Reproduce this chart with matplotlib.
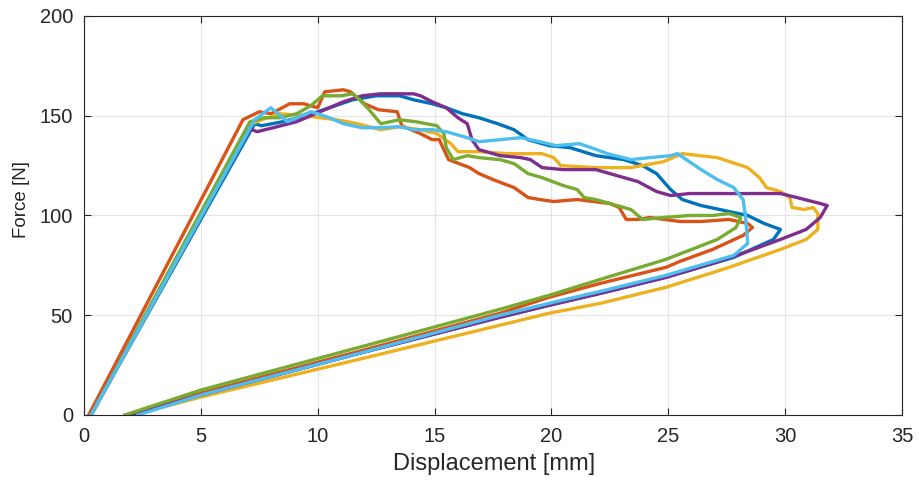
import numpy as np
import matplotlib
matplotlib.use('Agg')
import matplotlib.pyplot as plt

# force-displacement curves
blue_x = [0.3, 7.3, 7.6, 8.5, 9.5, 10.5, 11.5, 12.5, 13.5, 14.1, 14.9, 15.5, 16.2, 16.9, 17.7, 18.4, 19.0, 19.9, 20.8, 21.9, 23.1, 23.9, 24.5, 25.1, 25.6, 26.4, 27.6, 28.4, 29.1, 29.8, 29.5, 27.8, 24.9, 22.1, 19.9, 17.8, 11.8, 5.0, 2.0]
blue_y = [0, 146, 145, 147, 150, 154, 158, 160, 160, 158, 156, 154, 151, 149, 146, 143, 138, 135, 134, 130, 128, 125, 121, 113, 108, 105, 102, 100, 96, 93, 88, 79, 69, 61, 55, 49, 31, 10, 0]

orange_x = [0.2, 6.8, 7.5, 8.0, 8.8, 9.4, 10.0, 10.3, 11.1, 11.4, 12.0, 12.6, 13.4, 13.6, 14.4, 14.9, 15.2, 15.6, 16.5, 16.9, 17.5, 18.4, 19.0, 19.5, 20.1, 21.1, 22.5, 22.9, 23.2, 23.7, 24.2, 25.5, 26.4, 27.6, 28.4, 28.6, 28.2, 26.9, 25.5, 24.9, 22.1, 19.9, 17.8, 11.8, 5.0, 1.8]
orange_y = [0, 148, 152, 151, 156, 156, 154, 162, 163, 162, 156, 153, 152, 145, 141, 138, 138, 128, 124, 121, 118, 114, 109, 108, 107, 108, 106, 104, 98, 98, 99, 97, 97, 98, 96, 94, 90, 83, 77, 74, 66, 59, 51, 32, 11, 0]

yellow_x = [0.3, 7.2, 7.6, 8.4, 9.5, 10.1, 10.8, 11.7, 12.7, 13.5, 14.4, 15.1, 15.7, 16.0, 16.9, 18.1, 19.6, 20.1, 20.4, 21.9, 23.4, 24.8, 25.6, 27.1, 28.4, 28.9, 29.2, 29.8, 30.2, 30.3, 30.8, 31.2, 31.4, 31.4, 30.9, 29.8, 27.6, 24.9, 22.1, 19.9, 17.8, 11.8, 5.0, 2.1]
yellow_y = [0, 146, 148, 151, 150, 149, 148, 146, 143, 144.5, 143, 141, 136, 132, 132, 131, 131, 129, 125, 124, 124, 127, 131, 129, 124, 119, 114, 112, 109, 104, 103, 104, 101, 93, 88, 83, 74, 64, 56, 51, 45, 28, 9, 0]

purple_x = [0.3, 7.0, 7.4, 8.1, 9.1, 10.1, 11.1, 11.9, 12.7, 14.1, 14.4, 14.9, 15.5, 16.0, 16.4, 16.6, 16.9, 17.8, 18.7, 19.1, 19.6, 20.5, 21.9, 22.8, 23.7, 24.5, 25.1, 25.9, 27.5, 29.8, 30.5, 31.5, 31.8, 31.5, 30.9, 29.8, 28.4, 26.9, 24.9, 22.1, 19.9, 17.8, 11.8, 5.0, 2.0]
purple_y = [0, 144, 142, 144, 147, 152, 157, 160, 161, 161, 160, 157, 154, 149, 146, 138, 133, 130, 129, 128, 124, 123, 123, 120, 117, 112, 110, 111, 111, 111, 109, 106, 105, 99, 93, 88, 82, 76, 69, 61, 55, 49, 31, 10, 0]

green_x = [0.3, 7.1, 7.7, 8.4, 9.1, 9.7, 10.2, 11.0, 11.5, 11.8, 12.2, 12.7, 13.5, 14.2, 15.1, 15.4, 15.5, 15.8, 16.4, 16.9, 17.8, 18.4, 19.0, 19.6, 20.5, 21.1, 21.4, 21.9, 22.8, 23.4, 23.9, 24.8, 25.9, 26.9, 27.6, 28.1, 27.9, 27.1, 24.9, 22.1, 19.9, 17.8, 11.8, 5.0, 1.75]
green_y = [0, 147, 149, 149, 151, 155, 160, 160, 161, 158, 153, 146, 148, 147, 145, 141, 134, 128, 130, 129, 128, 126, 121, 119, 115, 113, 109, 108, 105, 103, 98, 99, 100, 100, 101, 99, 94, 88, 78, 68, 60, 53, 34, 12.5, 0]

lblue_x = [0.3, 7.3, 8.0, 8.7, 9.1, 9.7, 10.0, 10.5, 11.1, 11.9, 12.7, 13.5, 14.1, 14.9, 15.5, 16.4, 16.9, 17.8, 18.7, 19.5, 20.2, 21.2, 21.7, 22.4, 23.4, 24.2, 25.1, 25.4, 26.4, 27.1, 27.8, 28.2, 28.3, 28.4, 27.8, 24.9, 22.1, 19.9, 17.8, 11.8, 5.0, 2.3]
lblue_y = [0, 148, 154, 147, 149, 152, 151, 149, 146, 144, 144, 144.5, 143, 143, 142, 139, 137, 138, 139, 137, 135, 136, 134, 131, 128, 129, 130, 131, 123, 118, 114, 108, 100, 86, 80, 70, 62, 56, 50, 31, 10, 0]

x_ticks = [0, 5, 10, 15, 20, 25, 30, 35]
y_ticks = [0, 50, 100, 150, 200]

plt.rcParams['font.family'] = ['Liberation Sans', 'DejaVu Sans']

fig = plt.figure(figsize=(9.19, 4.83), dpi=100)
ax = fig.add_axes([0.0914, 0.1408, 0.8901, 0.8261])

curves = [(blue_x, blue_y, '#0072BD'),
          (orange_x, orange_y, '#D95319'),
          (yellow_x, yellow_y, '#EDB120'),
          (purple_x, purple_y, '#7E2F8E'),
          (green_x, green_y, '#77AC30'),
          (lblue_x, lblue_y, '#4DBEEE')]
for cx, cy, col in curves:
    ax.plot(cx, cy, color=col, lw=2.4, solid_joinstyle='round')

ax.set_xlim(0, 35)
ax.set_ylim(0, 200)
ax.set_xticks(x_ticks)
ax.set_yticks(y_ticks)
ax.grid(True, color='#e4e4e4', lw=0.8)
ax.set_axisbelow(True)
ax.tick_params(direction='in', length=5, top=True, right=True, labelsize=14.5,
               colors='#262626', width=0.8)
ax.tick_params(axis='x', pad=9)
ax.tick_params(axis='y', pad=8)
for s in ax.spines.values():
    s.set_color('#262626')
    s.set_linewidth(0.8)
ax.set_xlabel('Displacement [mm]', fontsize=17, color='#262626')
ax.set_ylabel('Force [N]', fontsize=13.5, color='#262626')
ax.xaxis.set_label_coords(0.501, -0.095)
ax.yaxis.set_label_coords(-0.066, 0.54)

fig.savefig('out.png', dpi=100)
